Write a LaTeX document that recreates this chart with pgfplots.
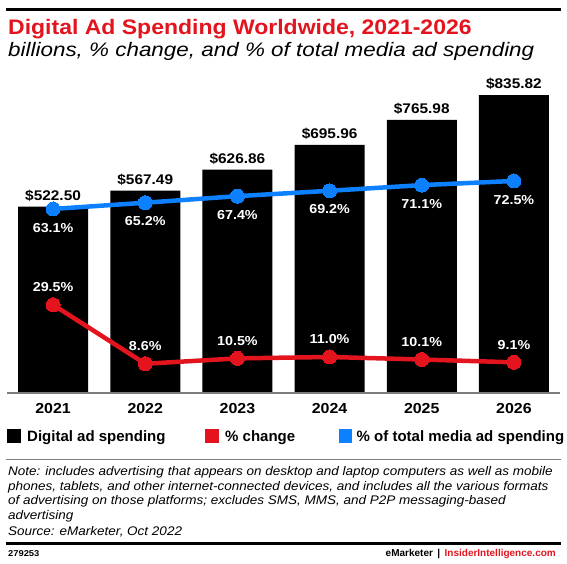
\documentclass[border=0pt]{standalone}
\usepackage{graphicx}
\usepackage{pgfplots}
\pgfplotsset{compat=1.18}
\usepackage{fontspec}
\setmainfont{Liberation Sans}
\newfontfamily\subfont[FakeStretch=1.15]{Liberation Sans Italic}
\newfontfamily\notefont[FakeStretch=1.08]{Liberation Sans Italic}
\newcommand{\widen}[1]{\scalebox{1.1}[1]{#1}}
\definecolor{emred}{RGB}{227,20,30}
\definecolor{emblue}{RGB}{12,128,255}
\definecolor{rulegray}{RGB}{125,125,125}
\begin{document}
\begin{tikzpicture}[x=1pt,y=1pt]
\useasboundingbox (-7,-170) rectangle (560,393);
% header
\draw[line width=2.5pt] (-1,383.5) -- (554,383.5);
\node[anchor=base west, inner sep=0, text=emred, font=\bfseries\fontsize{21}{23}\selectfont] at (1,358) {\scalebox{1.095}[1]{Digital Ad Spending Worldwide, 2021-2026}};
\node[anchor=base west, inner sep=0, font=\subfont\fontsize{19.5}{21}\selectfont] at (1,336.5) {billions, \% change, and \% of total media ad spending};

% bars
\begin{axis}[at={(0,0)}, anchor=south west, scale only axis,
  width=553pt, height=308pt,
  xmin=-0.5, xmax=5.5, ymin=0, ymax=864,
  axis line style={draw=none}, ytick=\empty,
  xtick={0,1,2,3,4,5}, xticklabels={\widen{2021},\widen{2022},\widen{2023},\widen{2024},\widen{2025},\widen{2026}},
  major tick length=0pt,
  xticklabel style={anchor=base, yshift=-20pt, font=\bfseries\fontsize{14.5}{16}\selectfont},
  clip=false]
\addplot[ybar, fill=black, draw=none, bar width=70pt,
  point meta=explicit symbolic, nodes near coords={\widen{\pgfplotspointmeta}},
  every node near coord/.append style={font=\bfseries\fontsize{14}{16}\selectfont, anchor=south, inner sep=0pt, yshift=5pt}]
  coordinates {(0,522.50) [\$522.50] (1,567.49) [\$567.49] (2,626.86) [\$626.86]
               (3,695.96) [\$695.96] (4,765.98) [\$765.98] (5,835.82) [\$835.82]};
\draw[rulegray, line width=1.2pt] (rel axis cs:0,0) -- (rel axis cs:1,0);
\end{axis}

% % change (red)
\begin{axis}[at={(0,0)}, anchor=south west, scale only axis,
  width=553pt, height=308pt,
  xmin=-0.5, xmax=5.5, ymin=-1.77, ymax=107.4, hide axis, clip=false]
\addplot[emred, line width=4.5pt, mark=*, mark size=7pt, mark options={line width=0pt, fill=emred},
  point meta=explicit symbolic, nodes near coords={\widen{\pgfplotspointmeta}},
  every node near coord/.append style={text=white, font=\bfseries\fontsize{13}{15}\selectfont, anchor=south, inner sep=0pt, yshift=13pt}]
  coordinates {(0,29.5) [29.5\%] (1,8.6) [8.6\%] (2,10.5) [10.5\%]
               (3,11.0) [11.0\%] (4,10.1) [10.1\%] (5,9.1) [9.1\%]};
\end{axis}

% % of total media (blue)
\begin{axis}[at={(0,0)}, anchor=south west, scale only axis,
  width=553pt, height=308pt,
  xmin=-0.5, xmax=5.5, ymin=1.34, ymax=104.7, hide axis, clip=false]
\addplot[emblue, line width=4.5pt, mark=*, mark size=7pt, mark options={line width=0pt, fill=emblue},
  point meta=explicit symbolic, nodes near coords={\widen{\pgfplotspointmeta}},
  every node near coord/.append style={text=white, font=\bfseries\fontsize{13}{15}\selectfont, anchor=north, inner sep=0pt, yshift=-14pt}]
  coordinates {(0,63.1) [63.1\%] (1,65.2) [65.2\%] (2,67.4) [67.4\%]
               (3,69.2) [69.2\%] (4,71.1) [71.1\%] (5,72.5) [72.5\%]};
\end{axis}

% legend
\fill[black] (0,-50) rectangle (14,-36);
\node[anchor=base west, inner sep=0, font=\bfseries\fontsize{15}{17}\selectfont] at (20,-48.7) {Digital ad spending};
\fill[emred] (198,-50) rectangle (212,-36);
\node[anchor=base west, inner sep=0, font=\bfseries\fontsize{15}{17}\selectfont] at (218,-48.7) {\% change};
\fill[emblue] (332,-50) rectangle (345,-36);
\node[anchor=base west, inner sep=0, font=\bfseries\fontsize{15}{17}\selectfont] at (349.5,-48.7) {\% of total media ad spending};

% note
\draw[rulegray, line width=1pt] (-1,-66) -- (554,-66);
\node[anchor=base west, inner sep=0, font=\notefont\fontsize{12.5}{15}\selectfont] at (1,-82) {Note: includes advertising that appears on desktop and laptop computers as well as mobile};
\node[anchor=base west, inner sep=0, font=\notefont\fontsize{12.5}{15}\selectfont] at (1,-97) {phones, tablets, and other internet-connected devices, and includes all the various formats};
\node[anchor=base west, inner sep=0, font=\notefont\fontsize{12.5}{15}\selectfont] at (1,-111.5) {of advertising on those platforms; excludes SMS, MMS, and P2P messaging-based};
\node[anchor=base west, inner sep=0, font=\notefont\fontsize{12.5}{15}\selectfont] at (1,-126) {advertising};
\node[anchor=base west, inner sep=0, font=\notefont\fontsize{12.5}{15}\selectfont] at (1,-142) {Source: eMarketer, Oct 2022};
% footer
\draw[line width=3pt] (-1,-150) -- (554,-150);
\node[anchor=base west, inner sep=0, font=\bfseries\fontsize{8.5}{10}\selectfont] at (1,-163.7) {\widen{279253}};
\node[anchor=base east, inner sep=0, font=\bfseries\fontsize{10}{12}\selectfont] at (549,-163.7) {eMarketer \,|\, \textcolor{emred}{InsiderIntelligence.com}};
\end{tikzpicture}
\end{document}
